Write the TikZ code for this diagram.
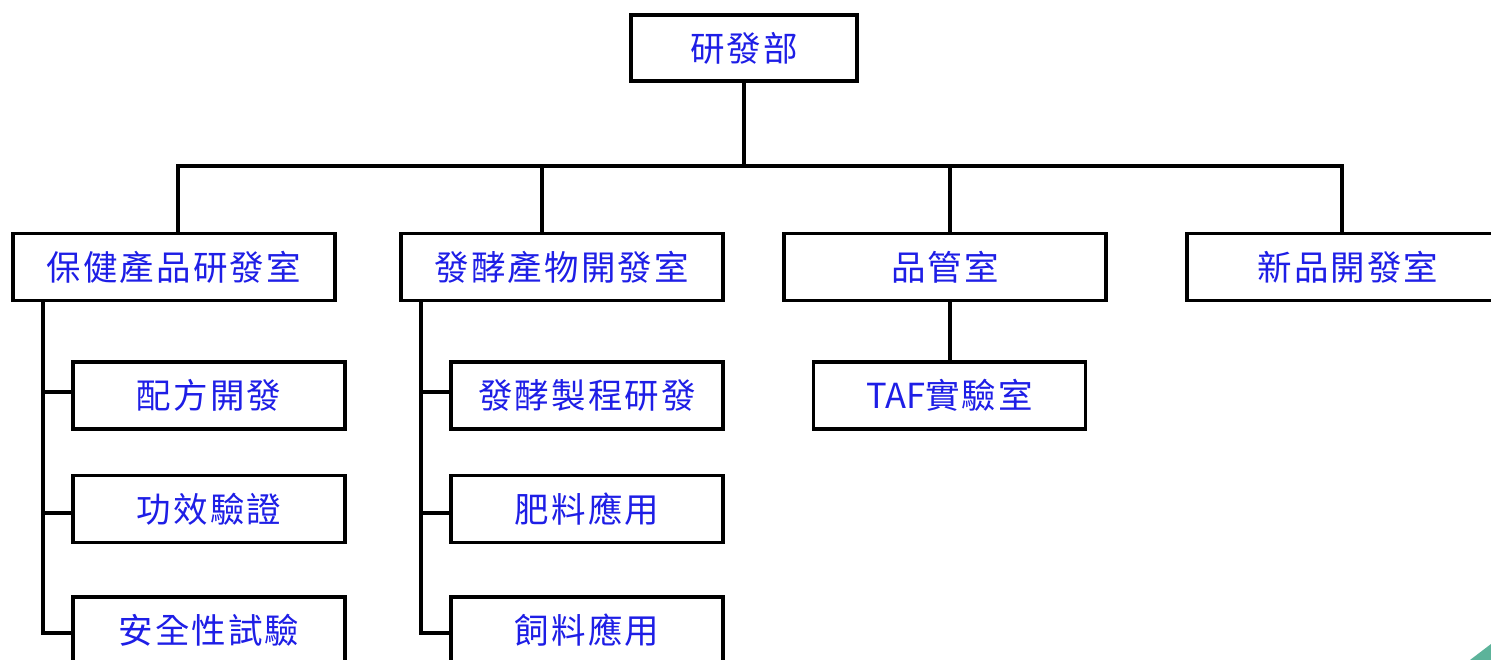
\documentclass[tikz,border=0pt]{standalone}
\usepackage{fontspec}
\newfontfamily\cjk[LetterSpace=6]{Noto Sans CJK TC}
\newfontfamily\cjklat{Noto Sans CJK TC}
\definecolor{txtblue}{RGB}{30,30,230}
\definecolor{cornerteal}{RGB}{92,179,154}
\begin{document}
\begin{tikzpicture}[x=1pt,y=-1pt,
  box/.style={draw=black, line width=3.6pt, fill=white, inner sep=0pt,
    minimum width=322pt, minimum height=67pt, text=txtblue,
    font=\cjk\fontsize{34.5}{34.5}\selectfont},
  subbox/.style={box, minimum width=272pt},
  link/.style={line width=3.6pt, line cap=rect},
  stem/.style={line width=3.6pt, line cap=butt}]
\useasboundingbox (0,0) rectangle (1491,660);
\clip (0,0) rectangle (1491,660);
% top
\node[box, minimum width=226pt, minimum height=66pt] (top) at (744,48) {研發部};
% level 2
\node[box] (b1) at (173.75,267) {保健產品研發室};
\node[box] (b2) at (561.75,267) {發酵產物開發室};
\node[box] (b3) at (945,267) {品管室};
\node[box] (b4) at (1348,267) {};
\node[text=txtblue, font=\cjk\fontsize{34.5}{34.5}\selectfont, inner sep=0pt] (b4t) at (1348,267) {新品開發室};
% bus
\coordinate (bus) at (744,166);
\coordinate (busL) at (178,166);
\coordinate (bus2) at (542,166);
\coordinate (bus3) at (950,166);
\coordinate (busR) at (1342,166);
\draw[stem] (top.south) -- (bus);
\draw[link] (busL) -- (busR);
\draw[stem] (busL) -- (busL |- b1.north);
\draw[stem] (bus2) -- (bus2 |- b2.north);
\draw[stem] (bus3) -- (bus3 |- b3.north);
\draw[stem] (busR) -- (busR |- b4.north);
% column 1
\node[subbox] (c11) at (209,395.5) {配方開發};
\node[subbox] (c12) at (209,509) {功效驗證};
\node[subbox] (c13) at (209,630.5) {安全性試驗};
\coordinate (s1top) at (43,301);
\coordinate (s1bot) at (43,633);
\draw[stem] (s1top) -- (s1bot);
\draw[link] (s1bot) -- (c13.west |- s1bot);
\draw[stem] (43,392) -- (c11.west |- 0,392);
\draw[stem] (43,513) -- (c12.west |- 0,513);
% column 2
\node[subbox] (c21) at (587,395.5) {發酵製程研發};
\node[subbox] (c22) at (587,509) {肥料應用};
\node[subbox] (c23) at (587,630.5) {飼料應用};
\coordinate (s2top) at (421,301);
\coordinate (s2bot) at (421,633);
\draw[stem] (s2top) -- (s2bot);
\draw[link] (s2bot) -- (c23.west |- s2bot);
\draw[stem] (421,392) -- (c21.west |- 0,392);
\draw[stem] (421,513) -- (c22.west |- 0,513);
% column 3
\node[subbox] (c31) at (949.5,395.5) {{\cjklat TAF}實驗室};
\draw[stem] (b3.south -| bus3) -- (c31.north -| bus3);
% corner triangle
\fill[cornerteal] (1470,660) -- (1491,644) -- (1491,660) -- cycle;
\end{tikzpicture}
\end{document}
